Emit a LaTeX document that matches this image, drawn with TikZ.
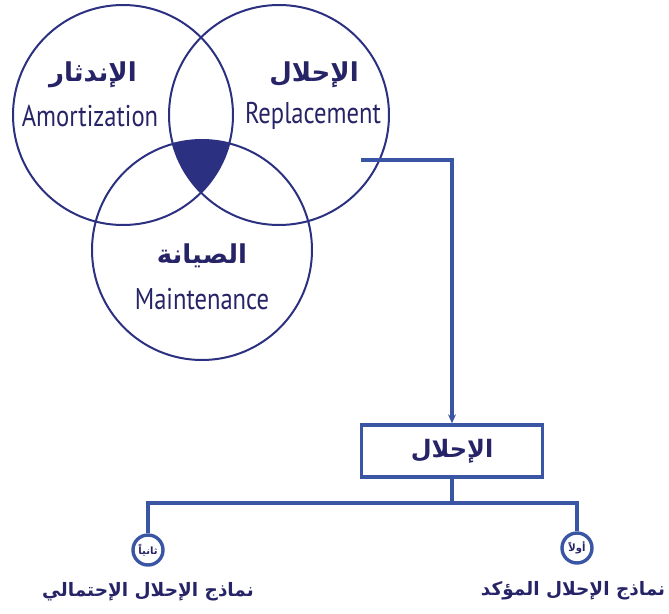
\documentclass[tikz,border=0pt]{standalone}
\usepackage{fontspec}
\usetikzlibrary{arrows.meta}
\setmainfont{PT Sans}
\newfontfamily\latinfont[FakeStretch=0.82]{PT Sans}
\newfontfamily\arabicfont[Script=Arabic]{DejaVu Sans}
\TeXXeTstate=1
\definecolor{navy}{HTML}{2B3080}
\definecolor{ink}{HTML}{262466}
\definecolor{linkblue}{HTML}{3A55A4}
\tikzset{
  venn/.style={circle, draw=navy, line width=2pt, minimum size=220pt, inner sep=0pt},
  artitle/.style={text=ink, font=\arabicfont\bfseries\fontsize{26}{30}\selectfont},
  entitle/.style={text=ink, font=\latinfont\fontsize{30}{34}\selectfont},
  link/.style={draw=linkblue, line width=3.4pt},
  boxnode/.style={draw=linkblue, line width=3.4pt, fill=white, minimum width=181pt, minimum height=52pt, inner sep=0pt},
  ordnode/.style={circle, draw=linkblue, line width=3.4pt, fill=white, minimum size=30pt, inner sep=0pt, text=ink, font=\arabicfont\bfseries\fontsize{10}{11}\selectfont},
  leaf/.style={text=ink, font=\arabicfont\bfseries\fontsize{18.5}{22}\selectfont}
}
\begin{document}
\begin{tikzpicture}[x=1pt,y=-1pt]
\useasboundingbox (0,0) rectangle (669,613);
% filled triple intersection
\begin{scope}
  \clip (123,115) circle (110pt);
  \clip (279,115) circle (110pt);
  \fill[navy] (202,250) circle (110pt);
\end{scope}
\node[venn] (cA) at (123,115) {};
\node[venn] (cR) at (279,115) {};
\node[venn] (cM) at (202,250) {};
% texts
\node[artitle] (tA) at (93,75) {\beginR الإندثار\endR};
\node[entitle] (eA) at (90,116) {Amortization};
\node[artitle] (tR) at (314,75) {\beginR الإحلال\endR};
\node[entitle] (eR) at (313,116) {Replacement};
\node[artitle] (tM) at (202,256) {\beginR الصيانة\endR};
\node[entitle] (eM) at (202,299) {Maintenance};
% lower part
\coordinate (s) at (361,160);
\node[boxnode, font=\arabicfont\bfseries\fontsize{24}{28}\selectfont, text=ink] (box) at (452,451) {\beginR الإحلال\endR};
\coordinate (fork) at (452,503);
\node[ordnode] (o1) at (577,548) {\beginR أولاً\endR};
\node[ordnode] (o2) at (148,550) {\beginR ثانياً\endR};
\node[leaf] (l1) at (573,591) {\beginR نماذج الإحلال المؤكد\endR};
\node[leaf] (l2) at (148,592) {\beginR نماذج الإحلال الإحتمالي\endR};
\draw[link, -{Stealth[length=9pt,width=8pt]}] (s) -| (box.north);
\draw[link] (box.south) -- (fork);
\draw[link] (fork) -| (o1.north);
\draw[link] (fork) -| (o2.north);
\end{tikzpicture}
\end{document}
